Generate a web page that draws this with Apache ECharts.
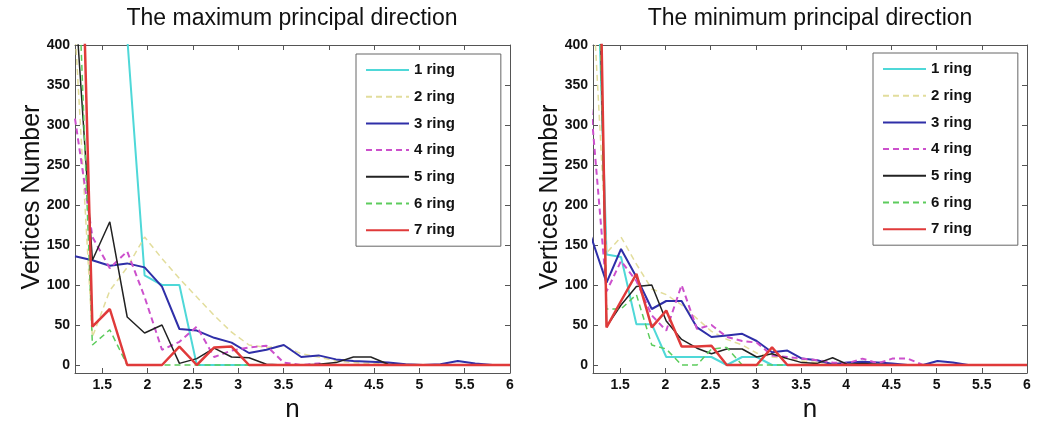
<!DOCTYPE html>
<html>
<head>
<meta charset="utf-8">
<title>Principal direction</title>
<script src="https://cdn.jsdelivr.net/npm/echarts@6/dist/echarts.min.js"></script>
<style>
  html, body { margin: 0; padding: 0; background: #fff; }
  #chart { width: 1050px; height: 429px; }
</style>
</head>
<body>
<div id="chart"></div>
<script>
// tick labels
const xTicks = [1.5, 2, 2.5, 3, 3.5, 4, 4.5, 5, 5.5, 6]
const yTicks = [0, 50, 100, 150, 200, 250, 300, 350, 400]
const ringNames = ['1 ring', '2 ring', '3 ring', '4 ring', '5 ring', '6 ring', '7 ring']

// left plot: maximum principal direction
const nMax = [1.2, 1.392, 1.584, 1.776, 1.968, 2.16, 2.352, 2.544, 2.736, 2.928, 3.12, 3.312, 3.504,
  3.696, 3.888, 4.08, 4.272, 4.464, 4.656, 4.848, 5.04, 5.232, 5.424, 5.616, 5.808, 6.0]
const max1 = [1800, 1200, 800, 410, 112, 100, 100, 0, 0, 0, 0, 0, 0, 0, 0, 0, 0, 0, 0, 0, 0, 0, 0, 0, 0, 0]
const max2 = [420, 35, 93, 122, 160, 133, 108, 85, 62, 41, 25, 22, 24, 14, 10, 5, 3, 2, 1, 1, 0, 0, 0, 0, 0, 0]
const max3 = [136, 131, 124, 127, 122, 98, 45, 43, 34, 28, 15, 19, 25, 10, 12, 7, 5, 4, 3, 1, 0, 1, 5, 2, 0, 0]
const max4 = [308, 160, 121, 142, 85, 19, 29, 48, 10, 18, 22, 24, 3, 0, 2, 0, 0, 0, 0, 0, 0, 0, 0, 0, 0, 0]
const max5 = [460, 131, 179, 60, 40, 50, 2, 8, 21, 10, 9, 1, 0, 0, 1, 3, 10, 10, 1, 0, 0, 0, 0, 0, 0, 0]
const max6 = [600, 25, 44, 0, 0, 0, 0, 0, 0, 0, 0, 0, 0, 0, 0, 0, 0, 0, 0, 0, 0, 0, 0, 0, 0, 0]
const max7 = [866, 48, 70, 0, 0, 0, 23, 0, 22, 23, 0, 0, 0, 0, 0, 0, 0, 0, 0, 0, 0, 0, 0, 0, 0, 0]

// right plot: minimum principal direction
const nMin = [1.18, 1.35, 1.51, 1.68, 1.85, 2.01, 2.18, 2.35, 2.51, 2.68, 2.85, 3.01, 3.18, 3.35, 3.51,
  3.68, 3.85, 4.01, 4.18, 4.35, 4.51, 4.68, 4.85, 5.01, 5.18, 5.35, 5.51, 5.68, 5.85, 6.0]
const min1 = [750, 138, 135, 51, 51, 10, 10, 10, 10, 0, 10, 10, 0, 0, 0, 0, 0, 0, 0, 0, 0, 0, 0, 0, 0, 0, 0, 0, 0, 0]
const min2 = [500, 140, 160, 126, 95, 88, 75, 58, 42, 32, 25, 15, 10, 8, 5, 3, 2, 2, 1, 0, 0, 0, 0, 0, 0, 0, 0, 0, 0, 0]
const min3 = [160, 103, 145, 110, 70, 80, 80, 47, 35, 37, 39, 30, 16, 18, 8, 6, 1, 3, 4, 3, 2, 0, 0, 5, 3, 0, 0, 0, 0, 0]
const min4 = [320, 92, 130, 105, 62, 43, 100, 45, 50, 35, 30, 28, 12, 10, 8, 6, 3, 2, 8, 2, 8, 8, 0, 0, 0, 0, 0, 0, 0, 0]
const min5 = [1000, 48, 75, 98, 100, 55, 32, 21, 14, 20, 20, 10, 14, 8, 3, 2, 9, 1, 2, 1, 0, 0, 0, 0, 0, 0, 0, 0, 0, 0]
const min6 = [900, 70, 70, 88, 25, 20, 0, 0, 20, 22, 0, 0, 0, 0, 0, 0, 0, 0, 0, 0, 0, 0, 0, 0, 0, 0, 0, 0, 0, 0]
const min7 = [1150, 47, 80, 114, 47, 68, 23, 23, 24, 0, 0, 0, 22, 0, 0, 0, 0, 0, 0, 0, 0, 0, 0, 0, 0, 0, 0, 0, 0, 0]

const FONT = "'Liberation Sans', Arial, Helvetica, sans-serif"
const AXIS_COLOR = '#555'

// line look of each ring
const ringStyles = [
  { color: '#4fd8d8', width: 2, type: 'solid' },
  { color: '#e2dd9c', width: 1.5, type: [6, 4] },
  { color: '#2f2fa8', width: 2, type: 'solid' },
  { color: '#cc50cc', width: 2, type: [6, 4] },
  { color: '#222222', width: 1.5, type: 'solid' },
  { color: '#5ccc5c', width: 1.5, type: [6, 4] },
  { color: '#e03a3a', width: 2.5, type: 'solid' }
]

const chart = echarts.init(document.getElementById('chart'))

const xAxisFor = (gridIndex, top) => ({
  type: 'value',
  gridIndex,
  position: top ? 'top' : 'bottom',
  min: 1.2,
  max: 6,
  axisLine: { onZero: false, lineStyle: { color: AXIS_COLOR, width: 1 } },
  axisTick: { inside: true, length: 5, customValues: xTicks, lineStyle: { color: AXIS_COLOR } },
  axisLabel: {
    show: !top,
    customValues: xTicks,
    color: '#111',
    fontWeight: 'bold',
    fontSize: 14,
    fontFamily: FONT,
    margin: 5
  },
  splitLine: { show: false },
  name: top ? '' : 'n',
  nameLocation: 'middle',
  nameGap: 17,
  nameTextStyle: { fontSize: 26, color: '#111', fontFamily: FONT }
})

const yAxisFor = (gridIndex, right) => ({
  type: 'value',
  gridIndex,
  position: right ? 'right' : 'left',
  min: -10,
  max: 400,
  axisLine: { show: true, onZero: false, lineStyle: { color: AXIS_COLOR, width: 1 } },
  axisTick: { show: true, inside: true, length: 5, customValues: yTicks, lineStyle: { color: AXIS_COLOR } },
  axisLabel: {
    show: !right,
    customValues: yTicks,
    color: '#111',
    fontWeight: 'bold',
    fontSize: 14,
    fontFamily: FONT,
    margin: 5
  },
  splitLine: { show: false },
  name: right ? '' : 'Vertices Number',
  nameLocation: 'middle',
  nameGap: 30,
  nameMoveOverlap: false,
  nameTextStyle: { fontSize: 25, color: '#111', fontFamily: FONT, padding: [0, 0, 0, 24] }
})

const makeSeries = (xs, rows, axisIndex) => rows.map((ys, i) => ({
  name: ringNames[i],
  type: 'line',
  xAxisIndex: axisIndex,
  yAxisIndex: axisIndex,
  data: xs.map((x, j) => [x, ys[j]]),
  symbol: 'none',
  clip: true,
  lineStyle: ringStyles[i],
  itemStyle: { color: ringStyles[i].color }
}))

const legendFor = (left, top) => ({
  data: ringNames,
  orient: 'vertical',
  left,
  top,
  padding: [8, 46, 8, 9],
  itemWidth: 43,
  itemHeight: 16,
  itemGap: 10.7,
  selectedMode: false,
  backgroundColor: '#fff',
  borderColor: '#666',
  borderWidth: 1,
  itemStyle: { opacity: 0 },
  textStyle: { fontSize: 15, fontWeight: 'bold', color: '#111', fontFamily: FONT, lineHeight: 16 }
})

const titleFor = (text, center) => ({
  text,
  left: center,
  top: 7,
  padding: 0,
  textAlign: 'center',
  textStyle: { fontSize: 23, fontWeight: 'normal', color: '#111', fontFamily: FONT }
})

const option = {
  animation: false,
  backgroundColor: '#fff',
  title: [
    titleFor('The maximum principal direction', 292),
    titleFor('The minimum principal direction', 810)
  ],
  legend: [legendFor(356, 54), legendFor(873, 53)],
  grid: [
    { left: 75, right: 540, top: 45, bottom: 56 },
    { left: 593, right: 23, top: 45, bottom: 56 }
  ],
  xAxis: [xAxisFor(0, false), xAxisFor(0, true), xAxisFor(1, false), xAxisFor(1, true)],
  yAxis: [yAxisFor(0, false), yAxisFor(0, true), yAxisFor(1, false), yAxisFor(1, true)],
  series: [
    ...makeSeries(nMax, [max1, max2, max3, max4, max5, max6, max7], 0),
    ...makeSeries(nMin, [min1, min2, min3, min4, min5, min6, min7], 2)
  ]
}

chart.setOption(option)
</script>
</body>
</html>
